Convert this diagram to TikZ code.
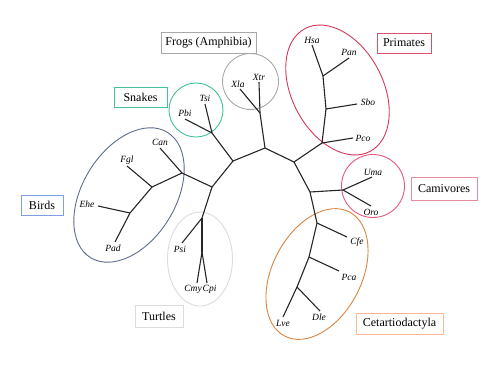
\documentclass[tikz,border=0pt]{standalone}
\usepackage{fontspec}
\setmainfont{Liberation Serif}
\usetikzlibrary{shapes.geometric}
\definecolor{frogc}{HTML}{A8A8A8}
\definecolor{snakec}{HTML}{45BF9C}
\definecolor{birdbox}{HTML}{7FA0E6}
\definecolor{birdell}{HTML}{5E6C8E}
\definecolor{turtc}{HTML}{DCDCDC}
\definecolor{primc}{HTML}{D23A58}
\definecolor{primbox}{HTML}{D9506C}
\definecolor{carnc}{HTML}{E4587A}
\definecolor{carnbox}{HTML}{EA8CA0}
\definecolor{cetc}{HTML}{D9843F}
\definecolor{cetbox}{HTML}{F2B898}
\begin{document}
\begin{tikzpicture}[x=1pt,y=-1pt,
  branch/.style={draw=black!85, line width=1.1pt},
  sp/.style={font=\fontsize{9.5}{9.5}\selectfont\itshape, inner sep=0pt},
  lbox/.style={draw, line width=0.9pt, font=\fontsize{12}{12}\selectfont, inner sep=0pt},
  ring/.style={draw, line width=0.9pt, inner sep=0pt}]
\useasboundingbox (0,0) rectangle (500,365);
% group outlines
\node[ring, draw=frogc, circle, minimum size=56pt] (frogring) at (250.5,81.5) {};
\node[ring, draw=snakec, circle, minimum size=54pt] (snakering) at (196,110) {};
\node[ring, draw=birdell, ellipse, minimum width=147pt, minimum height=93pt, rotate=58.5] (birdring) at (129,195) {};
\node[ring, draw=turtc, ellipse, minimum width=65pt, minimum height=94pt] (turtring) at (200,259) {};
\node[ring, draw=primc, ellipse, minimum width=139pt, minimum height=91pt, rotate=118] (primring) at (337.5,90) {};
\node[ring, draw=carnc, circle, minimum size=63pt] (carnring) at (373,186) {};
\node[ring, draw=cetc, ellipse, minimum width=140pt, minimum height=89pt, rotate=62.4] (cetring) at (317,274) {};
% group labels
\node[lbox, draw=frogc, minimum width=95pt, minimum height=21pt] (frogs) at (208.5,42.5) {Frogs (Amphibia)};
\node[lbox, draw=snakec, minimum width=53pt, minimum height=20pt] (snakes) at (140.5,97) {Snakes};
\node[lbox, draw=primbox, minimum width=54pt, minimum height=20pt] (primates) at (404,43) {Primates};
\node[lbox, draw=carnbox, minimum width=66pt, minimum height=23pt] (carn) at (444,188.5) {Camivores};
\node[lbox, draw=birdbox, minimum width=42pt, minimum height=20pt] (birds) at (42,205) {Birds};
\node[lbox, draw=turtc, minimum width=48pt, minimum height=22pt] (turtles) at (159,316) {Turtles};
\node[lbox, draw=cetbox, minimum width=87pt, minimum height=21pt] (cet) at (399.5,323.5) {Cetartiodactyla};
% tree coordinates
\coordinate (A) at (265,148);
\coordinate (B) at (233,161);
\coordinate (C) at (294,162);
\coordinate (Fr) at (260,113);
\coordinate (XlaE) at (240,89);
\coordinate (XtrE) at (259,82);
\coordinate (S) at (212,133);
\coordinate (PbiE) at (185,119);
\coordinate (TsiE) at (205,104);
\coordinate (D) at (212,187);
\coordinate (E) at (182,173);
\coordinate (CanE) at (160,148);
\coordinate (H) at (152,187);
\coordinate (FglE) at (127,166);
\coordinate (I) at (130,213);
\coordinate (EheE) at (98,206);
\coordinate (PadE) at (115,242);
\coordinate (T) at (202,218);
\coordinate (PsiE) at (182,243);
\coordinate (U) at (202,252);
\coordinate (CmyE) at (197,283);
\coordinate (CpiE) at (207,283);
\coordinate (P1) at (322,143);
\coordinate (PcoE) at (353,138);
\coordinate (P2) at (326,109);
\coordinate (SboE) at (357,104);
\coordinate (P3) at (323,76);
\coordinate (HsaE) at (312,45);
\coordinate (PanE) at (349,58);
\coordinate (K) at (310,192);
\coordinate (L) at (343,190);
\coordinate (UmaE) at (372,177);
\coordinate (OroE) at (371,206);
\coordinate (M) at (317,223);
\coordinate (CfeE) at (347,237);
\coordinate (N) at (309,257);
\coordinate (PcaE) at (339,271);
\coordinate (O) at (297,287);
\coordinate (DleE) at (320,311);
\coordinate (LveE) at (283,317);
% branches
\draw[branch] (A) -- (B);
\draw[branch] (A) -- (C);
\draw[branch] (A) -- (Fr);
\draw[branch] (Fr) -- (XlaE);
\draw[branch] (Fr) -- (XtrE);
\draw[branch] (B) -- (S);
\draw[branch] (S) -- (PbiE);
\draw[branch] (S) -- (TsiE);
\draw[branch] (B) -- (D);
\draw[branch] (D) -- (E);
\draw[branch] (E) -- (CanE);
\draw[branch] (E) -- (H);
\draw[branch] (H) -- (FglE);
\draw[branch] (H) -- (I);
\draw[branch] (I) -- (EheE);
\draw[branch] (I) -- (PadE);
\draw[branch] (D) -- (T);
\draw[branch] (T) -- (PsiE);
\draw[branch] (T) -- (U);
\draw[branch] (U) -- (CmyE);
\draw[branch] (U) -- (CpiE);
\draw[branch] (C) -- (P1);
\draw[branch] (P1) -- (PcoE);
\draw[branch] (P1) -- (P2);
\draw[branch] (P2) -- (SboE);
\draw[branch] (P2) -- (P3);
\draw[branch] (P3) -- (HsaE);
\draw[branch] (P3) -- (PanE);
\draw[branch] (C) -- (K);
\draw[branch] (K) -- (L);
\draw[branch] (L) -- (UmaE);
\draw[branch] (L) -- (OroE);
\draw[branch] (K) -- (M);
\draw[branch] (M) -- (CfeE);
\draw[branch] (M) -- (N);
\draw[branch] (N) -- (PcaE);
\draw[branch] (N) -- (O);
\draw[branch] (O) -- (DleE);
\draw[branch] (O) -- (LveE);
% species labels
\node[sp] (Xla) at (238,84) {Xla};
\node[sp] (Xtr) at (259,77) {Xtr};
\node[sp] (Pbi) at (185,113) {Pbi};
\node[sp] (Tsi) at (205,98) {Tsi};
\node[sp] (Can) at (160,142) {Can};
\node[sp] (Fgl) at (127,160) {Fgl};
\node[sp] (Ehe) at (87,204) {Ehe};
\node[sp] (Pad) at (113,248) {Pad};
\node[sp] (Psi) at (180,249) {Psi};
\node[sp, anchor=east] (Cmy) at (202,289) {Cmy};
\node[sp, anchor=west] (Cpi) at (202.5,289) {Cpi};
\node[sp] (Hsa) at (312,40) {Hsa};
\node[sp] (Pan) at (349,52) {Pan};
\node[sp] (Sbo) at (368,102) {Sbo};
\node[sp] (Pco) at (363,138) {Pco};
\node[sp] (Uma) at (373,172) {Uma};
\node[sp] (Oro) at (371,212) {Oro};
\node[sp] (Cfe) at (357,242) {Cfe};
\node[sp] (Pca) at (349,277) {Pca};
\node[sp] (Dle) at (319,317) {Dle};
\node[sp] (Lve) at (283,323) {Lve};
\end{tikzpicture}
\end{document}
